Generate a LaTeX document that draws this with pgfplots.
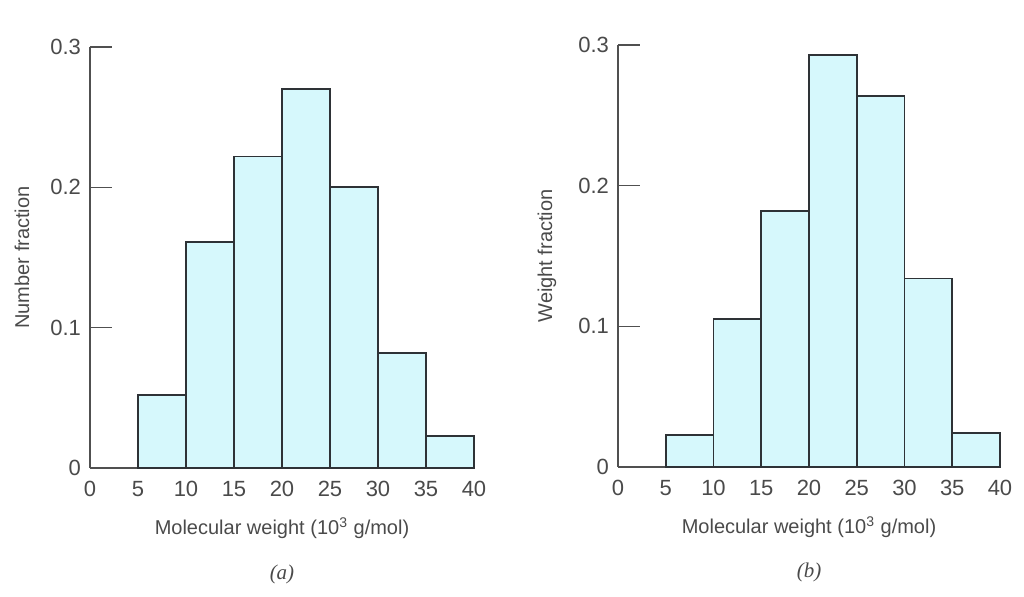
\documentclass[border=0pt]{standalone}
\usepackage{pgfplots}
\pgfplotsset{compat=1.18}
\usepackage{fontspec}
\setmainfont{Liberation Sans}
\newfontfamily\serifit{Liberation Serif}
\definecolor{barfill}{HTML}{D6F8FC}
\definecolor{baredge}{HTML}{2E3236}
\definecolor{axgray}{HTML}{505050}
\definecolor{txtgray}{HTML}{4A4A4A}
\pgfplotsset{
  histo/.style={
    scale only axis,
    xmin=0, xmax=40, ymin=0, ymax=0.3,
    axis x line=bottom, axis y line=left,
    axis line style={-, axgray, line width=0.9pt},
    xtick={0,5,...,40},
    ytick={0,0.1,0.2,0.3},
    yticklabels={0,0.1,0.2,0.3},
    xtick style={draw=none},
    ytick style={axgray, line width=0.7pt},
    tick align=inside,
    major tick length=11pt,
    /pgf/number format/assume math mode=true,
    tick label style={font=\fontsize{11}{13}\selectfont, text=txtgray},
    xticklabel style={yshift=-3pt},
    yticklabel style={xshift=-1pt},
    label style={font=\fontsize{10}{12}\selectfont, text=txtgray},
    clip=false,
  },
  bars/.style={ybar interval, fill=barfill, draw=baredge, line width=0.9pt},
}
\begin{document}
\begin{tikzpicture}
\useasboundingbox (0,0) rectangle (512pt,298.5pt);
\begin{axis}[histo,
  at={(45pt,64.5pt)}, anchor=south west,
  width=192pt, height=210.5pt,
  xlabel={Molecular weight (10\textsuperscript{3} g/mol)},
  ylabel={Number fraction},
  xlabel style={at={(axis description cs:0.5,-0.143)}, anchor=center},
  ylabel style={at={(axis description cs:-0.177,0.5)}, anchor=center},
]
\addplot[bars] coordinates {
  (5,0.052) (10,0.161) (15,0.222) (20,0.270) (25,0.200) (30,0.082) (35,0.023) (40,0.023)
};
\node[font=\serifit\itshape\fontsize{10.5}{12}\selectfont, text=txtgray] at (axis description cs:0.5,-0.252) {(a)};
\end{axis}
\begin{axis}[histo,
  at={(309pt,65pt)}, anchor=south west,
  width=191pt, height=211pt,
  xlabel={Molecular weight (10\textsuperscript{3} g/mol)},
  ylabel={Weight fraction},
  xlabel style={at={(axis description cs:0.5,-0.142)}, anchor=center},
  ylabel style={at={(axis description cs:-0.186,0.5)}, anchor=center},
]
\addplot[bars] coordinates {
  (5,0.023) (10,0.105) (15,0.182) (20,0.293) (25,0.264) (30,0.134) (35,0.024) (40,0.024)
};
\node[font=\serifit\itshape\fontsize{10.5}{12}\selectfont, text=txtgray] at (axis description cs:0.5,-0.249) {(b)};
\end{axis}
\end{tikzpicture}
\end{document}
